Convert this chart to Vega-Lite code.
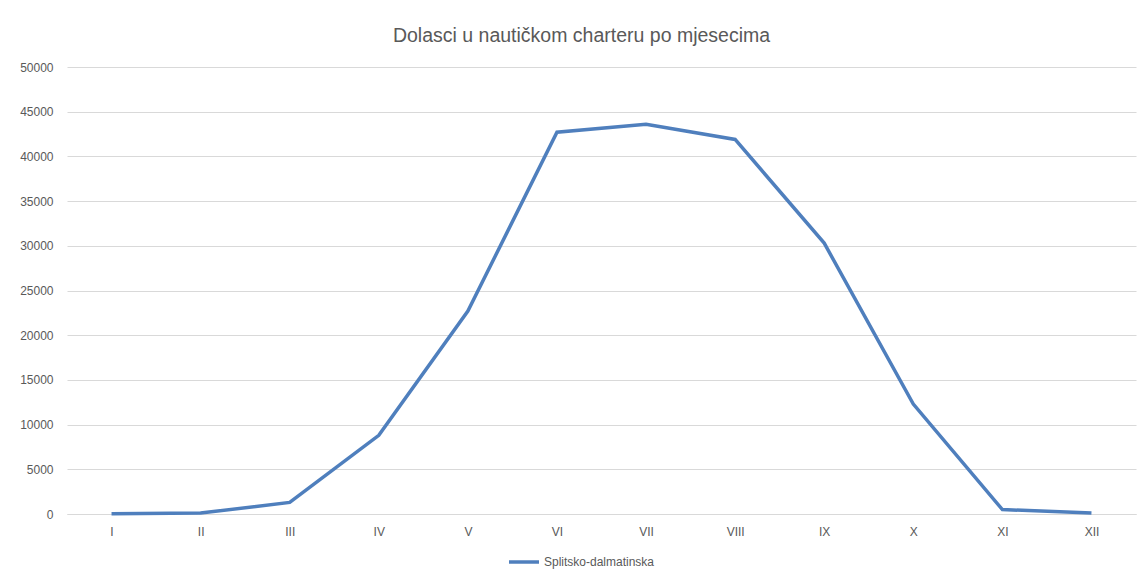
{
  "$schema": "https://vega.github.io/schema/vega-lite/v6.json",
  "autosize": {"type": "none"},
  "width": 1069,
  "height": 447,
  "padding": {"left": 67, "top": 67, "right": 4, "bottom": 63},
  "background": "white",
  "title": {
    "text": "Dolasci u nautičkom charteru po mjesecima",
    "font": "Liberation Sans",
    "fontSize": 19.5,
    "fontWeight": "normal",
    "color": "#595959",
    "anchor": "middle",
    "dx": -20,
    "offset": 15
  },
  "config": {
    "view": {"stroke": null},
    "axis": {"labelFont": "Liberation Sans", "labelFontSize": 12, "labelColor": "#595959"},
    "legend": {"labelFont": "Liberation Sans", "labelFontSize": 12, "labelColor": "#595959"}
  },
  "data": {
    "values": [
      {"mjesec": "I", "dolasci": 30, "zupanija": "Splitsko-dalmatinska"},
      {"mjesec": "II", "dolasci": 100, "zupanija": "Splitsko-dalmatinska"},
      {"mjesec": "III", "dolasci": 1300, "zupanija": "Splitsko-dalmatinska"},
      {"mjesec": "IV", "dolasci": 8800, "zupanija": "Splitsko-dalmatinska"},
      {"mjesec": "V", "dolasci": 22700, "zupanija": "Splitsko-dalmatinska"},
      {"mjesec": "VI", "dolasci": 42700, "zupanija": "Splitsko-dalmatinska"},
      {"mjesec": "VII", "dolasci": 43600, "zupanija": "Splitsko-dalmatinska"},
      {"mjesec": "VIII", "dolasci": 41900, "zupanija": "Splitsko-dalmatinska"},
      {"mjesec": "IX", "dolasci": 30300, "zupanija": "Splitsko-dalmatinska"},
      {"mjesec": "X", "dolasci": 12300, "zupanija": "Splitsko-dalmatinska"},
      {"mjesec": "XI", "dolasci": 500, "zupanija": "Splitsko-dalmatinska"},
      {"mjesec": "XII", "dolasci": 110, "zupanija": "Splitsko-dalmatinska"}
    ]
  },
  "mark": {"type": "line", "strokeWidth": 3.5, "strokeJoin": "miter"},
  "encoding": {
    "x": {
      "field": "mjesec",
      "type": "nominal",
      "sort": ["I","II","III","IV","V","VI","VII","VIII","IX","X","XI","XII"],
      "scale": {"type": "point", "padding": 0.5},
      "axis": {
        "title": null,
        "labelAngle": 0,
        "ticks": false,
        "domain": true,
        "domainColor": "#d9d9d9",
        "domainWidth": 1,
        "labelPadding": 12,
        "grid": false
      }
    },
    "y": {
      "field": "dolasci",
      "type": "quantitative",
      "scale": {"domain": [0, 50000], "nice": false},
      "axis": {
        "title": null,
        "values": [0,5000,10000,15000,20000,25000,30000,35000,40000,45000,50000],
        "format": "d",
        "ticks": false,
        "domain": false,
        "grid": true,
        "gridColor": "#d9d9d9",
        "gridWidth": 1,
        "labelPadding": 14
      }
    },
    "color": {
      "field": "zupanija",
      "type": "nominal",
      "scale": {"range": ["#4f7fbd"]},
      "legend": {
        "title": null,
        "orient": "none",
        "legendX": 440,
        "legendY": 478,
        "symbolType": "stroke",
        "symbolSize": 900,
        "symbolStrokeWidth": 3.5,
        "labelOffset": 3
      }
    }
  }
}
